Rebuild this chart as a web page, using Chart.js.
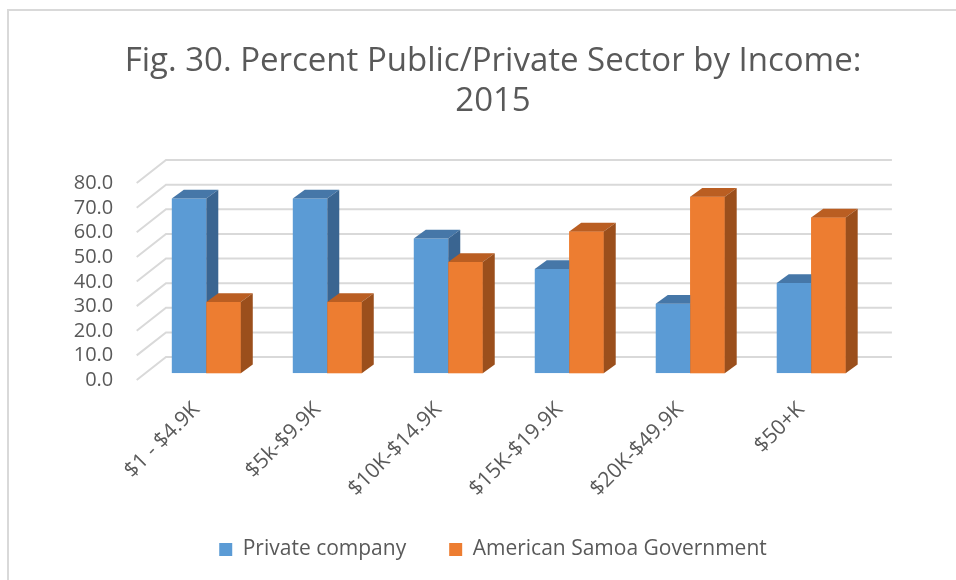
<!DOCTYPE html>
<html><head><meta charset="utf-8">
<script src="https://cdn.jsdelivr.net/npm/chart.js@4.4.1/dist/chart.umd.min.js"></script>
<style>html,body{margin:0;padding:0;background:#fff;overflow:hidden;}</style>
</head><body>
<canvas id="c" width="956" height="580"></canvas>
<script>
const categories = ["$1 - $4.9K", "$5k-$9.9K", "$10K-$14.9K", "$15K-$19.9K", "$20K-$49.9K", "$50+K"];
const privateCompany = [71.0, 71.0, 54.8, 42.4, 28.3, 36.7];
const asGovernment = [29.0, 29.0, 45.2, 57.6, 71.7, 63.3];
const seriesNames = ["Private company", "American Samoa Government"];
const yTicks = [0, 10, 20, 30, 40, 50, 60, 70, 80];
const titleLines = ["Fig. 30. Percent Public/Private Sector by Income:", "2015"];

const FONT = "'Open Sans', sans-serif";
const TXT = '#595959';
const DX = 12, DY = 8.7;
const faces = [{top: '#4677A8', side: '#3A6591'}, {top: '#BA5E22', side: '#9B4F1C'}];

const frame = {
  id: 'frame',
  beforeDraw(chart) {
    const ctx = chart.ctx;
    ctx.save();
    ctx.strokeStyle = '#d9d9d9';
    ctx.lineWidth = 2;
    ctx.strokeRect(8, 10, 980, 600);
    ctx.restore();
  }
};

const walls = {
  id: 'walls',
  beforeDatasetsDraw(chart) {
    const ctx = chart.ctx, ys = chart.scales.y, a = chart.chartArea;
    ctx.save();
    ctx.strokeStyle = '#d9d9d9';
    ctx.lineWidth = 2;
    yTicks.forEach(v => {
      const y = ys.getPixelForValue(v);
      ctx.beginPath();
      ctx.moveTo(a.left - 9.1, y + 6.7);
      ctx.lineTo(a.left + 20.2, y - 16.3);
      ctx.lineTo(a.right + 20.2, y - 16.3);
      ctx.stroke();
    });
    ctx.restore();
  }
};

function drawFaces(ctx, el, f) {
  const p = el.getProps(['x', 'y', 'base', 'width'], true);
  const l = p.x - p.width / 2, r = p.x + p.width / 2, t = p.y, b = p.base;
  ctx.fillStyle = f.top;
  ctx.beginPath();
  ctx.moveTo(l, t); ctx.lineTo(l + DX, t - DY); ctx.lineTo(r + DX, t - DY); ctx.lineTo(r, t);
  ctx.closePath(); ctx.fill();
  ctx.fillStyle = f.side;
  ctx.beginPath();
  ctx.moveTo(r, t); ctx.lineTo(r + DX, t - DY); ctx.lineTo(r + DX, b - DY); ctx.lineTo(r, b);
  ctx.closePath(); ctx.fill();
}

const bar3d = {
  id: 'bar3d',
  afterDatasetsDraw(chart) {
    const ctx = chart.ctx;
    const m0 = chart.getDatasetMeta(0), m1 = chart.getDatasetMeta(1);
    ctx.save();
    m0.data.forEach((el, i) => {
      drawFaces(ctx, el, faces[0]);
      m1.data[i].draw(ctx);
      drawFaces(ctx, m1.data[i], faces[1]);
    });
    ctx.restore();
  }
};

new Chart(document.getElementById('c'), {
  type: 'bar',
  data: {
    labels: categories,
    datasets: [
      {label: seriesNames[0], data: privateCompany, backgroundColor: '#5B9BD5'},
      {label: seriesNames[1], data: asGovernment, backgroundColor: '#ED7D31'}
    ]
  },
  options: {
    responsive: false,
    devicePixelRatio: 1,
    animation: false,
    categoryPercentage: 0.57,
    barPercentage: 1.0,
    layout: {padding: {left: 30, right: 0, top: 0, bottom: 10}},
    plugins: {
      tooltip: {enabled: false},
      title: {
        display: true, text: titleLines, color: TXT,
        font: {family: FONT, size: 33, weight: 'normal', lineHeight: 1.21},
        padding: {top: 42, bottom: 54.5}
      },
      legend: {
        position: 'bottom',
        labels: {
          color: TXT, boxWidth: 13, boxHeight: 13, padding: 43,
          font: {family: FONT, size: 21}
        }
      }
    },
    scales: {
      x: {
        grid: {display: false, drawTicks: false}, border: {display: false},
        ticks: {color: TXT, font: {family: FONT, size: 21}, maxRotation: 45, minRotation: 45, padding: 24, labelOffset: -10, autoSkip: false},
        afterFit: s => { s.height = 122.7; }
      },
      y: {
        min: 0, max: 80,
        grid: {display: false, drawTicks: false}, border: {display: false},
        ticks: {stepSize: 10, color: TXT, font: {family: FONT, size: 20}, padding: 32.5, labelOffset: 7, autoSkip: false,
          callback: v => Number(v).toFixed(1)},
        afterFit: s => { s.width = 115.8; }
      },
      yRight: {
        position: 'right', display: true,
        grid: {display: false, drawTicks: false}, border: {display: false},
        ticks: {display: false},
        afterFit: s => { s.width = 84.3; }
      }
    }
  },
  plugins: [frame, walls, bar3d]
});
</script>
</body></html>
